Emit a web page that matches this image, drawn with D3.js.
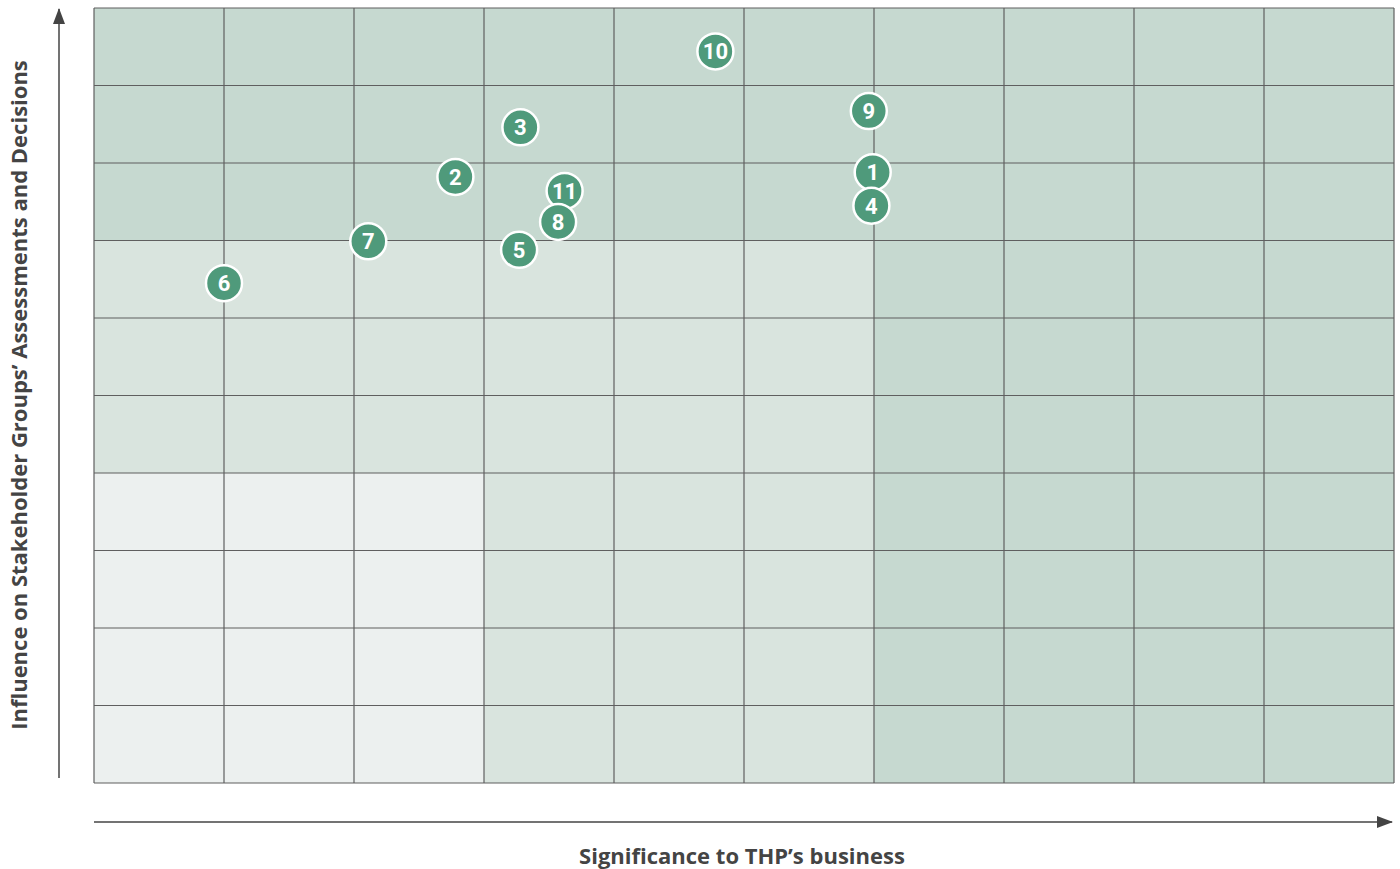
<!DOCTYPE html>
<html>
<head>
<meta charset="utf-8">
<script src="https://cdn.jsdelivr.net/npm/d3@7"></script>
<style>
  html, body { margin: 0; padding: 0; background: #fff; }
  svg { display: block; }
</style>
</head>
<body>
<div id="viz"></div>
<script>
const W = 1400;
const H = 869;
const PLOT = { left: 94, top: 8, right: 1394, bottom: 783 };

// Grid of 10 x 10 cells, zone index per row (top to bottom) and column.
const COLS = d3.range(10);
const ROWS = d3.range(10);
const ZONE_COLORS = ['#ecf0ef', '#d9e4de', '#c6d9d0'];

// Issues: label, significance (x, 0-10), influence (y, 0-10).
const LABELS = ['10', '9', '3', '1', '2', '11', '4', '8', '7', '5', '6'];
const XS = [4.78, 5.96, 3.28, 5.99, 2.78, 3.62, 5.98, 3.57, 2.11, 3.27, 1.0];
const YS = [9.44, 8.67, 8.46, 7.88, 7.82, 7.64, 7.45, 7.24, 6.99, 6.88, 6.45];

const X_TITLE = 'Significance to THP\u2019s business';
const Y_TITLE = 'Influence on Stakeholder Groups\u2019 Assessments and Decisions';

function zoneOf(col, row) {
  // row counted from bottom (0) to top (9)
  if (row >= 7 || col >= 6) return 2;
  if (row <= 3 && col <= 2) return 0;
  return 1;
}

const svg = d3.select('#viz')
  .append('svg')
  .attr('width', W)
  .attr('height', H);

const x = d3.scaleLinear().domain([0, 10]).range([PLOT.left, PLOT.right]);
const y = d3.scaleLinear().domain([0, 10]).range([PLOT.bottom, PLOT.top]);

const cells = [];
COLS.forEach((c) => ROWS.forEach((r) => cells.push({ c, r })));

svg.append('g')
  .selectAll('rect')
  .data(cells)
  .join('rect')
  .attr('x', (d) => x(d.c))
  .attr('y', (d) => y(d.r + 1))
  .attr('width', (d) => x(d.c + 1) - x(d.c))
  .attr('height', (d) => y(d.r) - y(d.r + 1))
  .attr('fill', (d) => ZONE_COLORS[zoneOf(d.c, d.r)]);

const grid = svg.append('g')
  .attr('stroke', '#5f5f5f')
  .attr('stroke-width', 1.2);

grid.selectAll('line.v')
  .data(d3.range(11))
  .join('line')
  .attr('class', 'v')
  .attr('x1', (d) => x(d))
  .attr('x2', (d) => x(d))
  .attr('y1', PLOT.top)
  .attr('y2', PLOT.bottom);

grid.selectAll('line.h')
  .data(d3.range(11))
  .join('line')
  .attr('class', 'h')
  .attr('y1', (d) => y(d))
  .attr('y2', (d) => y(d))
  .attr('x1', PLOT.left)
  .attr('x2', PLOT.right);

// axis arrows
const defs = svg.append('defs');
defs.append('marker')
  .attr('id', 'arrow')
  .attr('viewBox', '0 0 16 12')
  .attr('refX', 15)
  .attr('refY', 6)
  .attr('markerWidth', 16)
  .attr('markerHeight', 12)
  .attr('markerUnits', 'userSpaceOnUse')
  .attr('orient', 'auto')
  .append('path')
  .attr('d', 'M0,0 L16,6 L0,12 Z')
  .attr('fill', '#444');

svg.append('line')
  .attr('x1', 59).attr('x2', 59)
  .attr('y1', 778).attr('y2', 9)
  .attr('stroke', '#444')
  .attr('stroke-width', 1.5)
  .attr('marker-end', 'url(#arrow)');

svg.append('line')
  .attr('x1', 94).attr('x2', 1392)
  .attr('y1', 822).attr('y2', 822)
  .attr('stroke', '#444')
  .attr('stroke-width', 1.5)
  .attr('marker-end', 'url(#arrow)');

svg.append('text')
  .attr('x', 742)
  .attr('y', 864)
  .attr('text-anchor', 'middle')
  .attr('font-family', '"Open Sans", sans-serif')
  .attr('font-weight', 700)
  .attr('font-size', 22)
  .attr('fill', '#444')
  .text(X_TITLE);

svg.append('text')
  .attr('transform', 'translate(27,395) rotate(-90)')
  .attr('text-anchor', 'middle')
  .attr('font-family', '"Open Sans", sans-serif')
  .attr('font-weight', 700)
  .attr('font-size', 22)
  .attr('fill', '#444')
  .text(Y_TITLE);

const points = LABELS.map((label, i) => ({ label, x: XS[i], y: YS[i] }));

const marks = svg.append('g')
  .selectAll('g')
  .data(points)
  .join('g')
  .attr('transform', (d) => `translate(${x(d.x)},${y(d.y)})`);

marks.append('circle')
  .attr('r', 18)
  .attr('fill', '#4f9a7b')
  .attr('stroke', '#fff')
  .attr('stroke-width', 2.5);

marks.append('text')
  .attr('text-anchor', 'middle')
  .attr('dy', '0.36em')
  .attr('font-family', 'Roboto, sans-serif')
  .attr('font-weight', 700)
  .attr('font-size', 22)
  .attr('fill', '#fff')
  .text((d) => d.label);
</script>
</body>
</html>
